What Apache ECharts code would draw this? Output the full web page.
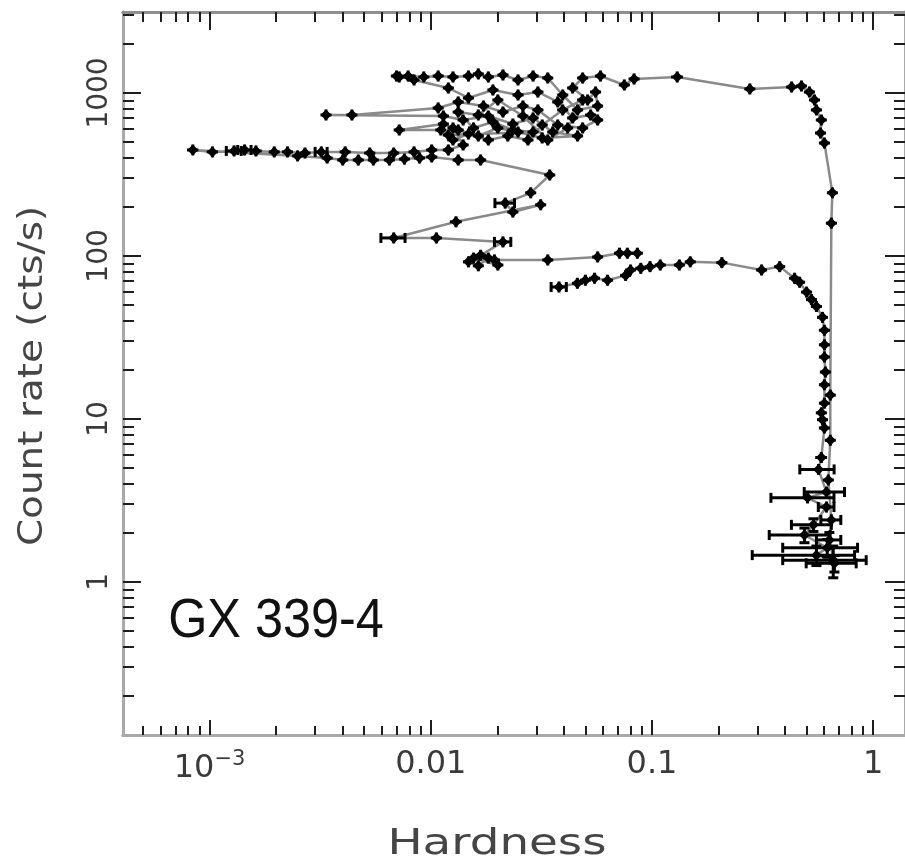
<!DOCTYPE html>
<html>
<head>
<meta charset="utf-8">
<script src="https://cdn.jsdelivr.net/npm/echarts@6/dist/echarts.min.js"></script>
<style>
  html, body { margin: 0; padding: 0; background: #ffffff; }
  #chart { width: 905px; height: 863px; }
</style>
</head>
<body>
<div id="chart"></div>
<script>
// Hardness–intensity track of GX 339-4.
// Each row: [hardness, hardness error, count rate (cts/s), count-rate error]

// low-intensity branch running to the hard corner and down to the faintest points
const returnBranch = [
  [0.038, 0.003, 64.5, 0], [0.046, 0.0014, 68, 0], [0.050, 0.0015, 71, 0],
  [0.055, 0.0017, 73, 0], [0.063, 0.0026, 71, 0], [0.076, 0.003, 76, 0],
  [0.080, 0.0025, 82, 0], [0.089, 0.002, 84, 0], [0.098, 0.002, 86, 0],
  [0.109, 0.003, 88, 0], [0.133, 0.003, 88, 0], [0.149, 0.003, 92, 0],
  [0.207, 0.004, 91, 0], [0.313, 0.006, 82, 0], [0.378, 0.006, 86, 0],
  [0.441, 0.006, 73, 0], [0.465, 0.006, 69, 0], [0.500, 0.007, 60, 0],
  [0.526, 0.007, 54, 0], [0.554, 0.008, 49, 0], [0.590, 0.008, 42, 0],
  [0.602, 0.009, 35, 0], [0.602, 0.009, 28.5, 0], [0.602, 0.010, 24, 0],
  [0.608, 0.012, 19.4, 0], [0.602, 0.014, 16.2, 0], [0.602, 0.016, 12.5, 0],
  [0.583, 0.020, 10.9, 0], [0.590, 0.020, 9.9, 0], [0.602, 0.025, 8.8, 0],
  [0.583, 0.036, 5.8, 0.3], [0.566, 0.10, 4.9, 0.3], [0.615, 0.127, 3.56, 0.25],
  [0.505, 0.16, 3.28, 0.25], [0.615, 0.05, 2.88, 0.2], [0.537, 0.11, 2.24, 0.2],
  [0.489, 0.15, 1.94, 0.2], [0.620, 0.23, 1.62, 0.2], [0.554, 0.27, 1.46, 0.2],
  [0.660, 0.27, 1.36, 0.3]
];

// hard-state rise and the transition across the top
const riseBranch = [
  [0.668, 0.17, 1.30, 0.15], [0.634, 0.08, 1.81, 0.2], [0.647, 0.067, 2.40, 0.2],
  [0.627, 0.033, 4.22, 0.2], [0.640, 0.020, 7.4, 0], [0.640, 0.015, 14, 0],
  [0.647, 0.009, 159, 0], [0.654, 0.009, 244, 0], [0.602, 0.008, 493, 0],
  [0.578, 0.008, 568, 0], [0.583, 0.008, 683, 0], [0.554, 0.008, 787, 0],
  [0.543, 0.008, 906, 0], [0.515, 0.008, 1014, 0], [0.474, 0.008, 1104, 0],
  [0.428, 0.008, 1088, 0], [0.277, 0.006, 1059, 0], [0.130, 0.008, 1254, 0],
  [0.083, 0.004, 1219, 0], [0.075, 0.003, 1120, 0]
];

// soft-state cluster
const softCluster = [
  [0.0585, 0.002, 1271, 0], [0.0486, 0.002, 1236, 0], [0.0438, 0.0015, 1073, 0],
  [0.0512, 0.002, 906, 0], [0.0556, 0.002, 1014, 0], [0.0568, 0.002, 832, 0],
  [0.0461, 0.002, 787, 0], [0.0395, 0.0015, 972, 0], [0.0338, 0.0013, 1236, 0],
  [0.0290, 0.001, 1271, 0], [0.0248, 0.001, 1202, 0], [0.0212, 0.0008, 1290, 0],
  [0.0182, 0.0008, 1254, 0], [0.0164, 0.0007, 1309, 0], [0.0148, 0.0007, 1271, 0],
  [0.0126, 0.0006, 1254, 0], [0.0108, 0.0005, 1271, 0], [0.0093, 0.0005, 1254, 0],
  [0.0079, 0.0004, 1271, 0], [0.0072, 0.0004, 1254, 0], [0.0070, 0.0004, 1271, 0],
  [0.0084, 0.0004, 1202, 0], [0.0120, 0.0005, 1073, 0], [0.0148, 0.0006, 932, 0],
  [0.0191, 0.0008, 1043, 0], [0.0248, 0.001, 972, 0], [0.0305, 0.0012, 1014, 0],
  [0.0375, 0.0015, 881, 0], [0.0438, 0.0015, 703, 0], [0.0528, 0.002, 733, 0],
  [0.0568, 0.002, 683, 0], [0.0486, 0.002, 610, 0], [0.0375, 0.0015, 636, 0],
  [0.0305, 0.0012, 787, 0], [0.0261, 0.001, 832, 0], [0.0212, 0.0008, 764, 0],
  [0.0173, 0.0007, 832, 0], [0.0133, 0.0006, 881, 0], [0.0108, 0.0005, 809, 0],
  [0.0044, 0.0002, 733, 0], [0.00336, 0.00017, 733, 0], [0.0114, 0.0005, 722, 0],
  [0.0140, 0.0006, 683, 0], [0.0182, 0.0008, 722, 0], [0.0235, 0.0009, 645, 0],
  [0.0290, 0.001, 703, 0], [0.0356, 0.0015, 576, 0], [0.0461, 0.002, 545, 0],
  [0.0319, 0.0012, 530, 0], [0.0248, 0.001, 576, 0], [0.0201, 0.0008, 610, 0],
  [0.0164, 0.0007, 545, 0], [0.0133, 0.0006, 593, 0], [0.0114, 0.0005, 645, 0],
  [0.0072, 0.0004, 593, 0], [0.0111, 0.0005, 593, 0], [0.0126, 0.0006, 515, 0],
  [0.0148, 0.0006, 560, 0], [0.0182, 0.0008, 515, 0], [0.0223, 0.0008, 545, 0],
  [0.0275, 0.001, 515, 0], [0.0319, 0.0012, 636, 0], [0.0395, 0.0015, 787, 0],
  [0.0486, 0.002, 906, 0], [0.0416, 0.0015, 610, 0], [0.0338, 0.0013, 515, 0],
  [0.0261, 0.001, 722, 0], [0.0201, 0.0008, 906, 0], [0.0164, 0.0007, 733, 0],
  [0.0133, 0.0006, 764, 0], [0.0156, 0.0006, 610, 0], [0.0191, 0.0008, 664, 0],
  [0.0235, 0.0009, 593, 0], [0.0290, 0.001, 576, 0], [0.0120, 0.0005, 552, 0],
  [0.0126, 0.0006, 610, 0], [0.0140, 0.0006, 480, 0], [0.0120, 0.0005, 447, 0]
];

// excursion to the softest colours and back
const softTail = [
  [0.0101, 0.0004, 447, 0], [0.0084, 0.0004, 435, 0], [0.0068, 0.0003, 428, 0],
  [0.0053, 0.0003, 428, 0], [0.0041, 0.0002, 435, 0], [0.0032, 0.0002, 435, 0],
  [0.0027, 0.00015, 428, 0], [0.00225, 0.00012, 435, 0], [0.00196, 0.0001, 435, 0],
  [0.00162, 0.0001, 441, 0], [0.00144, 0.0001, 447, 0], [0.00129, 0.0001, 441, 0],
  [0.00103, 0.00006, 435, 0], [0.00084, 0.00005, 447, 0],
  [0.0025, 0.00012, 411, 0], [0.0034, 0.00015, 399, 0], [0.0040, 0.0002, 388, 0],
  [0.0047, 0.0002, 388, 0], [0.0055, 0.0002, 388, 0], [0.0065, 0.0003, 388, 0],
  [0.0076, 0.0003, 393, 0], [0.0089, 0.0004, 399, 0], [0.0101, 0.0004, 405, 0],
  [0.0133, 0.0006, 388, 0], [0.0168, 0.0008, 388, 0]
];

// decline out of the soft state
const decline = [
  [0.0345, 0.0015, 314, 0], [0.0283, 0.0012, 244, 0], [0.0217, 0.0022, 211, 0],
  [0.0235, 0.001, 186, 0], [0.0314, 0.0012, 206, 0], [0.0130, 0.0008, 162, 0],
  [0.0068, 0.00085, 129, 0], [0.0106, 0.00055, 129, 0], [0.0212, 0.0018, 122, 0],
  [0.0168, 0.0008, 101, 0], [0.0148, 0.0007, 92, 0], [0.0164, 0.0007, 87, 0],
  [0.0182, 0.0008, 97, 0], [0.0156, 0.0007, 97, 0], [0.0201, 0.0008, 88, 0],
  [0.0194, 0.0008, 94.5, 0], [0.0338, 0.0015, 94.5, 0], [0.0568, 0.002, 98.6, 0],
  [0.0713, 0.0025, 104, 0], [0.0774, 0.003, 104, 0], [0.0859, 0.003, 104, 0]
];

// axis ranges and labelled decades
const hardnessRange = [4.06e-4, 1.393];
const rateRange = [0.115, 3140];
const hardnessTicks = [0.001, 0.01, 0.1, 1];
const hardnessTickLabels = ['{m|10}{s|\u22123}', '0.01', '0.1', '1'];
const rateTicks = [1, 10, 100, 1000];
const rateTickLabels = ['1', '10', '100', '1000'];

const lg = Math.log10;

// axes are laid out in decades: every coordinate below is log10 of the physical value
function minorTicks(range) {
  const out = [];
  const lo = Math.floor(lg(range[0])), hi = Math.ceil(lg(range[1]));
  for (let d = lo; d <= hi; d++) {
    for (let k = 2; k <= 9; k++) {
      const v = lg(k) + d;
      if (v >= lg(range[0]) && v <= lg(range[1])) out.push(v);
    }
  }
  return out;
}

const track = [].concat(returnBranch, riseBranch, softCluster, softTail, decline);
const lineData = track.map(r => [lg(r[0]), lg(r[2])]);
const barData = track.map(r => [
  lg(r[0]), lg(r[2]),
  lg(Math.max(r[0] - r[1], 1e-6)), lg(r[0] + r[1]),
  lg(Math.max(r[2] - r[3], 1e-6)), lg(r[2] + r[3])
]);

const frameColor = '#a9a9a9';
const tickColor = '#1e1e1e';
const labelColor = '#3a3a3a';

function hAxis(position, ticks, len, withLabels) {
  return {
    type: 'value', position: position, gridIndex: 0,
    min: lg(hardnessRange[0]), max: lg(hardnessRange[1]),
    axisLine: { show: true, onZero: false, lineStyle: { color: position === 'top' ? '#8f8f8f' : frameColor, width: 3 } },
    axisTick: { show: true, inside: true, length: len, customValues: ticks, lineStyle: { color: tickColor, width: 2 } },
    axisLabel: withLabels ? {
      show: true, customValues: hardnessTicks.map(lg), margin: 14,
      fontFamily: 'DejaVu Sans', fontSize: 32, color: labelColor,
      formatter: v => {
        const i = hardnessTicks.findIndex(t => Math.abs(lg(t) - v) < 1e-6);
        return i >= 0 ? hardnessTickLabels[i] : '';
      },
      rich: {
        m: { fontFamily: 'DejaVu Sans', fontSize: 32, color: labelColor },
        s: { fontFamily: 'DejaVu Sans', fontSize: 21, color: labelColor, padding: [0, 0, 18, 0] }
      }
    } : { show: false },
    splitLine: { show: false }
  };
}

function vAxis(position, ticks, len, withLabels) {
  return {
    type: 'value', position: position, gridIndex: 0,
    min: lg(rateRange[0]), max: lg(rateRange[1]),
    axisLine: { show: true, onZero: false, lineStyle: { color: frameColor, width: 3 } },
    axisTick: { show: true, inside: true, length: len, customValues: ticks, lineStyle: { color: tickColor, width: 2 } },
    axisLabel: withLabels ? {
      show: true, customValues: rateTicks.map(lg), rotate: 90, margin: 9,
      fontFamily: 'DejaVu Sans', fontSize: 28, color: labelColor,
      formatter: v => {
        const i = rateTicks.findIndex(t => Math.abs(lg(t) - v) < 1e-6);
        return i >= 0 ? rateTickLabels[i] : '';
      }
    } : { show: false },
    splitLine: { show: false }
  };
}

const xMajor = hardnessTicks.map(lg);
const xMinor = minorTicks(hardnessRange);
const yMajor = rateTicks.map(lg);
const yMinor = minorTicks(rateRange);

const chart = echarts.init(document.getElementById('chart'), null, { renderer: 'canvas' });

chart.setOption({
  backgroundColor: '#ffffff',
  animation: false,
  grid: { left: 123, top: 12, width: 786, height: 723, containLabel: false },
  xAxis: [
    hAxis('bottom', xMajor, 15, true),
    hAxis('bottom', xMinor, 9, false),
    hAxis('top', xMajor, 18, false),
    hAxis('top', xMinor, 10, false)
  ],
  yAxis: [
    vAxis('left', yMajor, 18, true),
    vAxis('left', yMinor, 11, false),
    vAxis('right', yMajor, 20, false),
    vAxis('right', yMinor, 11, false)
  ],
  series: [
    {
      name: 'track', type: 'line', xAxisIndex: 0, yAxisIndex: 0,
      data: lineData, showSymbol: false, symbol: 'none',
      lineStyle: { color: '#8a8a8a', width: 2.5 }, z: 2
    },
    {
      name: 'points', type: 'custom', xAxisIndex: 0, yAxisIndex: 0,
      data: barData, z: 3,
      encode: { x: [0, 2, 3], y: [1, 4, 5] },
      renderItem: function (params, api) {
        const c = api.coord([api.value(0), api.value(1)]);
        const xl = api.coord([api.value(2), api.value(1)])[0];
        const xr = api.coord([api.value(3), api.value(1)])[0];
        const yb = api.coord([api.value(0), api.value(4)])[1];
        const yt = api.coord([api.value(0), api.value(5)])[1];
        const st = { stroke: '#000', lineWidth: 3, fill: null };
        const r = 5.5;
        const kids = [
          { type: 'line', shape: { x1: Math.min(xl, c[0] - r), y1: c[1], x2: Math.max(xr, c[0] + r), y2: c[1] }, style: st },
          { type: 'line', shape: { x1: c[0], y1: Math.max(yb, c[1] + r), x2: c[0], y2: Math.min(yt, c[1] - r) }, style: st },
          { type: 'polygon', shape: { points: [[c[0] - r, c[1]], [c[0], c[1] - r], [c[0] + r, c[1]], [c[0], c[1] + r]] }, style: { fill: '#000' } }
        ];
        if (xr - xl > 12) {
          kids.push({ type: 'line', shape: { x1: xl, y1: c[1] - 5, x2: xl, y2: c[1] + 5 }, style: st });
          kids.push({ type: 'line', shape: { x1: xr, y1: c[1] - 5, x2: xr, y2: c[1] + 5 }, style: st });
        }
        if (yb - yt > 12) {
          kids.push({ type: 'line', shape: { x1: c[0] - 5, y1: yb, x2: c[0] + 5, y2: yb }, style: st });
          kids.push({ type: 'line', shape: { x1: c[0] - 5, y1: yt, x2: c[0] + 5, y2: yt }, style: st });
        }
        return { type: 'group', children: kids };
      }
    }
  ],
  graphic: [
    {
      type: 'text', x: 497, y: 845, scaleX: 1.3,
      style: { text: 'Hardness', font: '36px "DejaVu Sans"', fill: '#454545', align: 'center', verticalAlign: 'middle' }
    },
    {
      type: 'text', x: 33, y: 376, rotation: Math.PI / 2, scaleX: 1.18,
      style: { text: 'Count rate (cts/s)', font: '33px "DejaVu Sans"', fill: '#454545', align: 'center', verticalAlign: 'middle' }
    },
    {
      type: 'text', x: 276, y: 622, scaleX: 0.9,
      style: { text: 'GX 339-4', font: '56px "Liberation Sans"', fill: '#111111', align: 'center', verticalAlign: 'middle' }
    }
  ]
});
</script>
</body>
</html>
